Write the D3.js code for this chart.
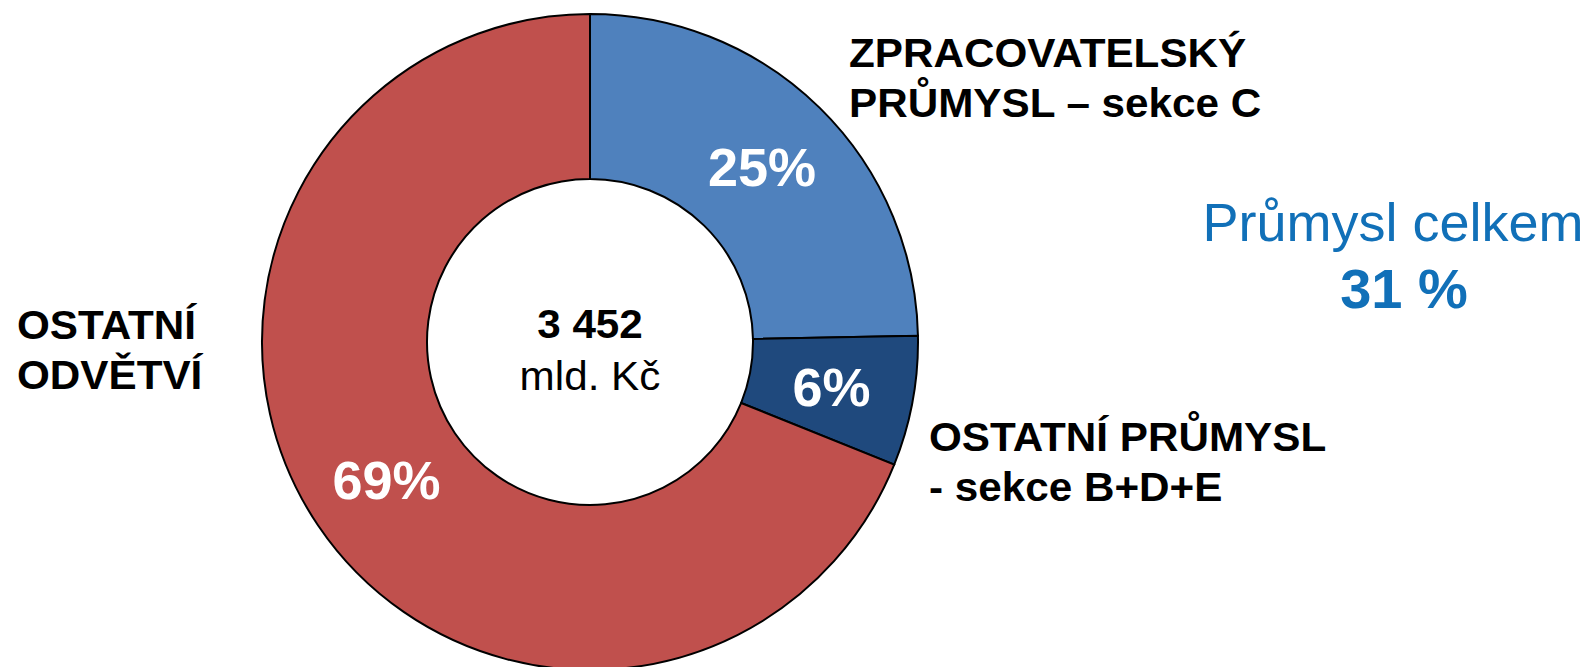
<!DOCTYPE html>
<html>
<head>
<meta charset="utf-8">
<script src="https://cdn.jsdelivr.net/npm/d3@7"></script>
<style>
  html, body { margin: 0; padding: 0; background: #fff; }
  svg { display: block; font-family: "Liberation Sans", Arial, sans-serif; }
</style>
</head>
<body>
<svg id="chart" width="1592" height="667"></svg>
<script>
// shares of total (%), clockwise from 12 o'clock
const categories = ["ZPRACOVATELSKÝ PRŮMYSL – sekce C", "OSTATNÍ PRŮMYSL - sekce B+D+E", "OSTATNÍ ODVĚTVÍ"];
const shares = [24.7, 6.4, 68.9];
const shareLabels = ["25%", "6%", "69%"];
const sliceColors = ["#4F81BD", "#1F497D", "#C0504D"];

const totalValue = "3 452";
const totalUnit = "mld. Kč";
const industryTitle = "Průmysl celkem";
const industryShare = "31 %";

const svg = d3.select("#chart");

const cx = 590,
  cy = 342,
  outerR = 328,
  innerR = 163;

const data = categories.map((c, i) => ({ name: c, value: shares[i], label: shareLabels[i], color: sliceColors[i] }));

const pie = d3.pie().sort(null).value((d) => d.value);
const arc = d3.arc().innerRadius(innerR).outerRadius(outerR);
const arcs = pie(data);

// donut
const ring = svg.append("g").attr("transform", "translate(" + cx + "," + cy + ")");

ring
  .selectAll("path")
  .data(arcs)
  .enter()
  .append("path")
  .attr("d", arc)
  .attr("fill", (d) => d.data.color)
  .attr("stroke", "#000")
  .attr("stroke-width", 2);

// percentage labels at slice centroids
ring
  .selectAll("text")
  .data(arcs)
  .enter()
  .append("text")
  .attr("x", (d) => arc.centroid(d)[0])
  .attr("y", (d) => arc.centroid(d)[1])
  .attr("dy", "0.36em")
  .attr("text-anchor", "middle")
  .attr("fill", "#fff")
  .attr("font-weight", "bold")
  .attr("font-size", 54)
  .text((d) => d.data.label);

// text helper, slightly wider glyphs like the original
function addText(str, x, y, size, opts) {
  opts = opts || {};
  return svg
    .append("text")
    .attr("transform", "translate(" + x + "," + y + ") scale(" + (opts.sx || 1) + ",1)")
    .attr("text-anchor", opts.anchor || "start")
    .attr("font-weight", opts.bold ? "bold" : "normal")
    .attr("font-size", size)
    .attr("fill", opts.color || "#000")
    .text(str);
}

// centre text
addText(totalValue, cx, 338, 41, { bold: true, anchor: "middle", sx: 1.03 });
addText(totalUnit, cx, 390, 41, { anchor: "middle", sx: 1.03 });

// category labels
const labelBlocks = [
  { lines: ["ZPRACOVATELSKÝ", "PRŮMYSL – sekce C"], x: 849, y: 67 },
  { lines: ["OSTATNÍ PRŮMYSL", "- sekce B+D+E"], x: 929, y: 451 },
  { lines: ["OSTATNÍ", "ODVĚTVÍ"], x: 17, y: 339 },
];
const lineGap = 50;

labelBlocks.forEach(function (b) {
  b.lines.forEach(function (s, i) {
    addText(s, b.x, b.y + i * lineGap, 41, { bold: true, sx: 1.03 });
  });
});

// industry total
addText(industryTitle, 1393, 241, 54, { anchor: "middle", color: "#1170B8" });
addText(industryShare, 1404, 308, 56, { anchor: "middle", bold: true, color: "#1170B8" });
</script>
</body>
</html>
